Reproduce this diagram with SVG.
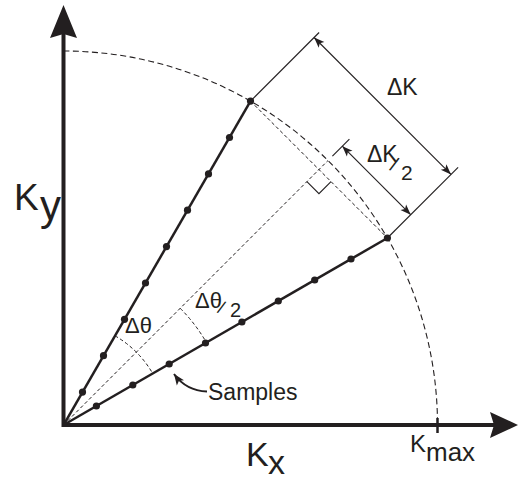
<svg xmlns="http://www.w3.org/2000/svg" width="518" height="481" viewBox="0 0 518 481">
<style>
  .axis{fill:none;stroke:#231f20;stroke-width:4;stroke-linejoin:miter}
  .spoke{fill:none;stroke:#231f20;stroke-width:2.5}
  .dot{fill:#231f20}
  .dash{fill:none;stroke:#231f20;stroke-width:1.1;stroke-dasharray:6 3.5}
  .dash2{fill:none;stroke:#231f20;stroke-width:1;stroke-dasharray:3.5 2.5}
  .thin{fill:none;stroke:#231f20;stroke-width:1.1}
  .dim{fill:none;stroke:#231f20;stroke-width:1.1;marker-start:url(#dimArrow);marker-end:url(#dimArrow)}
  text{font-family:"Liberation Sans",Arial,sans-serif;fill:#231f20}
</style>
<defs>
  <marker id="dimArrow" viewBox="0 0 12 10" refX="11" refY="5" markerWidth="12" markerHeight="10" markerUnits="userSpaceOnUse" orient="auto-start-reverse">
    <path d="M11,5 L0.5,1 L3,5 L0.5,9 Z" fill="#231f20"/>
  </marker>
  <marker id="sampArrow" viewBox="0 0 12 10" refX="11" refY="5" markerWidth="12" markerHeight="10" markerUnits="userSpaceOnUse" orient="auto">
    <path d="M11,5 L0,0.5 L2.5,5 L0,9.5 Z" fill="#231f20"/>
  </marker>
</defs>

<g id="axes">
  <path class="axis" d="M63.5,34 V425 H494"/>
  <polygon points="63.5,5 50,38 63.5,34 77,38" fill="#231f20"/>
  <polygon points="518,425 490,412 494,425 490,438" fill="#231f20"/>
  <line x1="437.5" y1="418" x2="437.5" y2="433" stroke="#231f20" stroke-width="2.5"/>
</g>

<g id="construction">
  <path class="dash" d="M63.5,51 A374,374 0 0 1 437.5,425"/>
  <line class="dash2" x1="63.5" y1="425" x2="328" y2="160.5"/>
  <line class="dash2" x1="250.5" y1="101.1" x2="387.4" y2="238"/>
  <path class="dash2" d="M115,335.8 A103,103 0 0 1 152.7,373.5"/>
  <path class="dash2" d="M180.2,308.3 A165,165 0 0 1 206.4,342.5"/>
  <polyline class="thin" points="306.9,181.6 318.95,193.6 331,181.6"/>
</g>

<g id="spokes">
  <g id="spoke-upper">
    <line class="spoke" x1="63.5" y1="425" x2="250.5" y2="101.1"/>
    <circle class="dot" cx="82.5" cy="392.1" r="3.6"/>
    <circle class="dot" cx="103.5" cy="355.7" r="3.6"/>
    <circle class="dot" cx="124.5" cy="319.3" r="3.6"/>
    <circle class="dot" cx="145.5" cy="283" r="3.6"/>
    <circle class="dot" cx="166.5" cy="246.6" r="3.6"/>
    <circle class="dot" cx="187.5" cy="210.2" r="3.6"/>
    <circle class="dot" cx="208.5" cy="173.9" r="3.6"/>
    <circle class="dot" cx="229.5" cy="137.5" r="3.6"/>
    <circle class="dot" cx="250.5" cy="101.1" r="3.6"/>
  </g>
  <g id="spoke-lower">
    <line class="spoke" x1="63.5" y1="425" x2="387.4" y2="238"/>
    <circle class="dot" cx="96.4" cy="406" r="3.6"/>
    <circle class="dot" cx="132.8" cy="385" r="3.6"/>
    <circle class="dot" cx="169.2" cy="364" r="3.6"/>
    <circle class="dot" cx="205.5" cy="343" r="3.6"/>
    <circle class="dot" cx="241.9" cy="322" r="3.6"/>
    <circle class="dot" cx="278.3" cy="301" r="3.6"/>
    <circle class="dot" cx="314.7" cy="280" r="3.6"/>
    <circle class="dot" cx="351" cy="259" r="3.6"/>
    <circle class="dot" cx="387.4" cy="238" r="3.6"/>
  </g>
</g>

<g id="dimensions">
  <line class="thin" x1="250.5" y1="101.1" x2="319.1" y2="32.5"/>
  <line class="thin" x1="387.4" y1="238" x2="458.1" y2="167.3"/>
  <line class="thin" x1="332.4" y1="156.1" x2="349.4" y2="139.1"/>
  <line class="dim" x1="314.1" y1="37.5" x2="451" y2="174.4"/>
  <line class="dim" x1="342.3" y1="146.2" x2="410.7" y2="214.7"/>
</g>

<g id="connectors">
  <path d="M207,391.5 C194,391 182,385 174,374" fill="none" stroke="#231f20" stroke-width="2" marker-end="url(#sampArrow)"/>
</g>

<g id="labels">
  <text x="387" y="95" font-size="23">ΔK</text>
  <text x="367" y="162" font-size="23">ΔK</text>
  <text x="391" y="172" font-size="20" transform="rotate(22 396 166)">/</text>
  <text x="401" y="180" font-size="21">2</text>
  <text x="125" y="333" font-size="22">Δθ</text>
  <text x="195" y="308" font-size="22">Δθ</text>
  <text x="219" y="315" font-size="18" transform="rotate(22 225 308)">/</text>
  <text x="230" y="317" font-size="20">2</text>
  <text x="208" y="400" font-size="23">Samples</text>
  <text x="14" y="209.5" font-size="37">K</text>
  <text x="40" y="220" font-size="42">y</text>
  <text x="246" y="466" font-size="34">K</text>
  <text x="268" y="473.5" font-size="34">x</text>
  <text x="410" y="452" font-size="24">K</text>
  <text x="426" y="461" font-size="26">max</text>
</g>
</svg>
